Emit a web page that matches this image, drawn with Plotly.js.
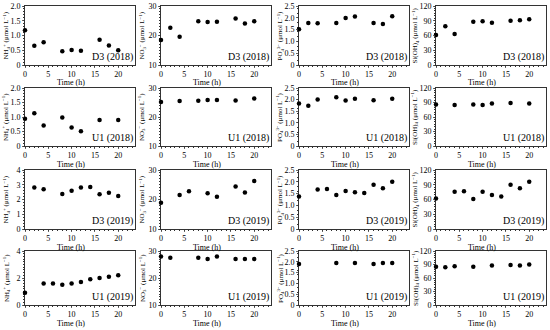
<!DOCTYPE html>
<html><head><meta charset="utf-8">
<script src="https://cdn.plot.ly/plotly-3.0.1.min.js"></script>
<style>html,body{margin:0;padding:0;background:#fff}#c{width:550px;height:330px}</style>
</head><body><div id="c"></div>
<script>
// ---- Data ----
// Row 1: D3 (2018)
const t_D3_2018 = [0, 2, 4, 8, 10, 12, 16, 18, 20];
const NH4_D3_2018 = [1.18, 0.65, 0.77, 0.47, 0.51, 0.48, 0.86, 0.66, 0.50];
const NO3_D3_2018 = [18.5, 22.6, 19.6, 24.8, 24.6, 24.7, 25.8, 24.1, 24.8];
const PO4_D3_2018 = [1.51, 1.78, 1.77, 1.78, 1.99, 2.06, 1.78, 1.74, 2.07];
const Si_D3_2018 = [61, 79, 63, 88, 89, 86, 90, 91, 93];
// Row 2: U1 (2018)
const t_U1_2018_NH4 = [0, 2, 4, 8, 10, 12, 16, 20];
const NH4_U1_2018 = [0.94, 1.13, 0.71, 0.98, 0.64, 0.51, 0.90, 0.90];
const t_U1_2018_NO3 = [0, 4, 8, 10, 12, 16, 20];
const NO3_U1_2018 = [25.2, 25.5, 25.6, 25.9, 25.9, 25.7, 26.4];
const t_U1_2018_PO4 = [0, 2, 4, 8, 10, 12, 16, 20];
const PO4_U1_2018 = [1.83, 1.73, 2.00, 2.10, 1.96, 2.04, 1.97, 2.04];
const t_U1_2018_Si = [0, 4, 8, 10, 12, 16, 20];
const Si_U1_2018 = [86, 85, 86, 85, 88, 89, 88];
// Row 3: D3 (2019)
const t_D3_2019_NH4 = [2, 4, 8, 10, 12, 14, 16, 18, 20];
const NH4_D3_2019 = [2.82, 2.70, 2.37, 2.60, 2.82, 2.84, 2.35, 2.46, 2.23];
const t_D3_2019_NO3 = [0, 4, 6, 10, 12, 16, 18, 20];
const NO3_D3_2019 = [18.9, 21.5, 22.8, 22.1, 20.9, 24.4, 22.4, 26.3];
const t_D3_2019_PO4 = [0, 4, 6, 8, 10, 12, 14, 16, 18, 20];
const PO4_D3_2019 = [1.38, 1.67, 1.70, 1.44, 1.61, 1.56, 1.53, 1.87, 1.73, 2.00];
const t_D3_2019_Si = [0, 4, 6, 8, 10, 12, 14, 16, 18, 20];
const Si_D3_2019 = [62, 76, 77, 61, 76, 69, 66, 90, 83, 96];
// Row 4: U1 (2019)
const t_U1_2019_NH4 = [0, 4, 6, 8, 10, 12, 14, 16, 18, 20];
const NH4_U1_2019 = [0.9, 1.6, 1.6, 1.5, 1.6, 1.7, 1.9, 2.0, 2.1, 2.2];
const t_U1_2019_NO3 = [0, 2, 8, 10, 12, 16, 18, 20];
const NO3_U1_2019 = [28.0, 27.5, 27.5, 27.0, 28.0, 27.0, 27.0, 27.0];
const t_U1_2019_PO4 = [0, 8, 12, 16, 18, 20];
const PO4_U1_2019 = [1.90, 1.95, 1.95, 1.90, 1.95, 1.95];
const t_U1_2019_Si = [0, 2, 4, 8, 12, 16, 18, 20];
const Si_U1_2019 = [85, 84, 86, 85, 88, 89, 88, 90];

const stationLabels = ["D3 (2018)", "U1 (2018)", "D3 (2019)", "U1 (2019)"];
const xTicks = [0, 5, 10, 15, 20];
const xTitle = "Time (h)";

// y-axis tick labels
const nh4Ticks = [0, 0.5, 1, 1.5, 2];
const nh4TickText = ["0", "0.5", "1.0", "1.5", "2.0"];
const nh4Ticks4 = [0, 1, 2, 3, 4];
const nh4Ticks4b = [0, 2, 4];
const no3Ticks = [10, 20, 30];
const po4Ticks = [0, 0.5, 1, 1.5, 2, 2.5];
const po4TickText = ["0", "0.5", "1.0", "1.5", "2.0", "2.5"];
const siTicks = [0, 30, 60, 90, 120];

const titles = {
  NH4: "NH<sub>4</sub><sup>+</sup> (μmol L<sup>−1</sup>)",
  NO3: "NO<sub>3</sub><sup>−</sup> (μmol L<sup>−1</sup>)",
  PO4: "PO<sub>4</sub><sup>3−</sup> (μmol L<sup>−1</sup>)",
  Si: "Si(OH)<sub>4</sub> (μmol L<sup>−1</sup>)"
};

const grid = [
  [
    {x: t_D3_2018, y: NH4_D3_2018, v: "NH4", r: [0, 2], tv: nh4Ticks, tt: nh4TickText},
    {x: t_D3_2018, y: NO3_D3_2018, v: "NO3", r: [10, 30], tv: no3Ticks},
    {x: t_D3_2018, y: PO4_D3_2018, v: "PO4", r: [0, 2.5], tv: po4Ticks, tt: po4TickText},
    {x: t_D3_2018, y: Si_D3_2018, v: "Si", r: [0, 120], tv: siTicks}
  ],
  [
    {x: t_U1_2018_NH4, y: NH4_U1_2018, v: "NH4", r: [0, 2], tv: nh4Ticks, tt: nh4TickText},
    {x: t_U1_2018_NO3, y: NO3_U1_2018, v: "NO3", r: [10, 30], tv: no3Ticks},
    {x: t_U1_2018_PO4, y: PO4_U1_2018, v: "PO4", r: [0, 2.5], tv: po4Ticks, tt: po4TickText},
    {x: t_U1_2018_Si, y: Si_U1_2018, v: "Si", r: [0, 120], tv: siTicks}
  ],
  [
    {x: t_D3_2019_NH4, y: NH4_D3_2019, v: "NH4", r: [0, 4], tv: nh4Ticks4},
    {x: t_D3_2019_NO3, y: NO3_D3_2019, v: "NO3", r: [10, 30], tv: no3Ticks},
    {x: t_D3_2019_PO4, y: PO4_D3_2019, v: "PO4", r: [0, 2.5], tv: po4Ticks, tt: po4TickText},
    {x: t_D3_2019_Si, y: Si_D3_2019, v: "Si", r: [0, 120], tv: siTicks}
  ],
  [
    {x: t_U1_2019_NH4, y: NH4_U1_2019, v: "NH4", r: [0, 4], tv: nh4Ticks4b},
    {x: t_U1_2019_NO3, y: NO3_U1_2019, v: "NO3", r: [10, 30], tv: no3Ticks},
    {x: t_U1_2019_PO4, y: PO4_U1_2019, v: "PO4", r: [0, 2.5], tv: po4Ticks, tt: po4TickText},
    {x: t_U1_2019_Si, y: Si_U1_2019, v: "Si", r: [0, 120], tv: siTicks}
  ]
];

const W = 550, H = 330;
const colPx = [[25, 135], [161, 271], [299, 409], [436, 546]];
const rowPx = [[6, 65], [88, 146], [170, 229], [251, 305]];
const titleXPx = [6, 142, 280, 415];
const font = "Liberation Serif, Times New Roman, serif";

const traces = [];
const layout = {
  width: W, height: H,
  margin: {l: 0, r: 0, t: 0, b: 0},
  paper_bgcolor: "#fff", plot_bgcolor: "#fff",
  showlegend: false,
  font: {family: font, size: 8, color: "#000"},
  annotations: []
};

let k = 0;
grid.forEach((row, ri) => {
  row.forEach((p, ci) => {
    k++;
    const xa = k === 1 ? "x" : "x" + k;
    const ya = k === 1 ? "y" : "y" + k;
    const xk = k === 1 ? "xaxis" : "xaxis" + k;
    const yk = k === 1 ? "yaxis" : "yaxis" + k;
    traces.push({
      type: "scatter", mode: "markers", x: p.x, y: p.y, xaxis: xa, yaxis: ya,
      marker: {color: "#000", size: 4.5}, cliponaxis: false, hoverinfo: "skip"
    });
    const cx = colPx[ci], ry = rowPx[ri];
    layout[xk] = {
      domain: [cx[0] / W, cx[1] / W], anchor: ya,
      range: [0, 23.6], tickvals: xTicks, ticks: "outside", ticklen: 2, tickwidth: 0.8,
      showgrid: false, zeroline: false, showline: true, linecolor: "#000", linewidth: 0.8,
      mirror: true, tickfont: {family: font, size: 8},
      minor: {dtick: 1, ticks: "outside", ticklen: 1.5, tickcolor: "#000", showgrid: false}
    };
    const yax = {
      domain: [1 - ry[1] / H, 1 - ry[0] / H], anchor: xa,
      range: p.r, tickvals: p.tv, ticks: "outside", ticklen: 2, tickwidth: 0.8,
      showgrid: false, zeroline: false, showline: true, linecolor: "#000", linewidth: 0.8,
      mirror: true, tickfont: {family: font, size: 8},
      minor: {nticks: 5, ticks: "outside", ticklen: 1.5, tickcolor: "#000", showgrid: false}
    };
    if (p.tt) yax.ticktext = p.tt;
    layout[yk] = yax;
    // y-axis title
    layout.annotations.push({
      xref: "paper", yref: "paper", x: titleXPx[ci] / W, y: 1 - (ry[0] + ry[1]) / 2 / H,
      xanchor: "center", yanchor: "middle", textangle: -90, showarrow: false,
      text: titles[p.v], font: {family: font, size: 7, color: "#000"}
    });
    // x-axis title
    layout.annotations.push({
      xref: xa + " domain", yref: "paper", x: 0.42, y: 1 - (ry[1] + 18) / H,
      xanchor: "center", yanchor: "middle", showarrow: false,
      text: xTitle, font: {family: font, size: 8, color: "#000"}
    });
    // station label
    layout.annotations.push({
      xref: xa + " domain", yref: ya + " domain", x: 1, y: 0,
      xanchor: "right", yanchor: "bottom", showarrow: false,
      text: stationLabels[ri], font: {family: font, size: 10, color: "#000"}
    });
  });
});

Plotly.newPlot("c", traces, layout, {staticPlot: true, displayModeBar: false});
</script>
</body></html>
